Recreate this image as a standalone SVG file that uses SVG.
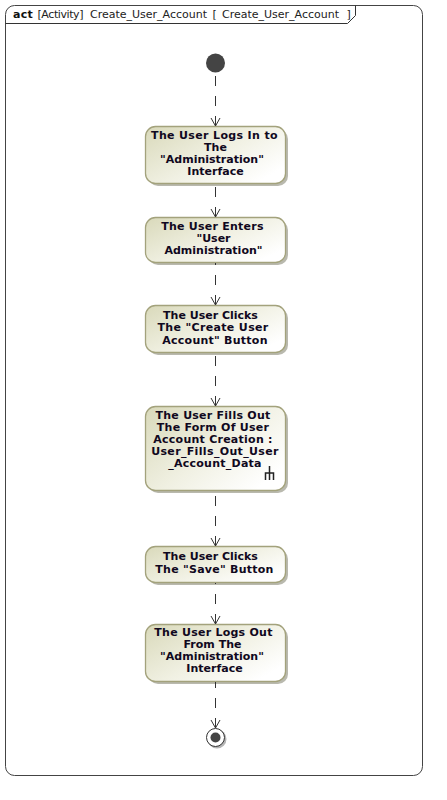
<svg xmlns="http://www.w3.org/2000/svg" width="447" height="800" viewBox="0 0 447 800">
<style>
.n{fill:url(#g);stroke:#a3a27c;stroke-width:1.3}
.s{fill:#a8a89a;opacity:.8}
.t{font:bold 11px "DejaVu Sans",sans-serif;fill:#100820;text-anchor:middle}
.a{letter-spacing:.25px}
.b{letter-spacing:.35px}
.c{fill:none;stroke:#333;stroke-width:1;stroke-dasharray:10 10}
.h{fill:none;stroke:#333;stroke-width:1}
.f{font:11px "DejaVu Sans",sans-serif;fill:#222}
</style>
<defs>
<linearGradient id="g" x1="0" y1="0" x2="1" y2=".7"><stop offset="0" stop-color="#d9d9ba"/><stop offset=".55" stop-color="#f0f0e2"/><stop offset="1" stop-color="#fff"/></linearGradient>
</defs>
<rect width="447" height="800" fill="#fff"/>
<g id="frame">
<rect x="5.5" y="5.500" width="417" height="770" rx="9" fill="#fff" stroke="#444" stroke-width="1"/>
<path class="h" d="M5.500 23.500H347.500L355.500 15.500V5.500" stroke="#444"/>
<text x="13" y="18" style="font:bold 11px 'DejaVu Sans',sans-serif;letter-spacing:.3px" fill="#111">act</text>
<text x="37.500" y="18" class="f" textLength="46">[Activity]</text>
<text y="18" class="f"><tspan x="90">Create_User_Account</tspan><tspan x="212.500">[</tspan><tspan x="222">Create_User_Account</tspan><tspan x="346.500">]</tspan></text>
</g>
<g id="start"><circle cx="215.500" cy="63" r="9.500" fill="#444"/></g>
<g id="n1"><rect class="s" x="148" y="129" width="140" height="57" rx="10"/><rect class="n" x="145.500" y="126.500" width="140" height="57" rx="10"/>
<text class="t b" x="214.500" y="139">The User Logs In to</text><text class="t" x="215.500" y="151">The</text><text class="t" x="212" y="163">"Administration"</text><text class="t" x="215.500" y="175">Interface</text></g>
<g id="n2"><rect class="s" x="148" y="220" width="140" height="45" rx="10"/><rect class="n" x="145.500" y="217.500" width="140" height="45" rx="10"/>
<text class="t a" x="212.500" y="230">The User Enters</text><text class="t" x="213.500" y="242">"User</text><text class="t" x="213.500" y="254">Administration"</text></g>
<g id="n3"><rect class="s" x="148" y="308" width="140" height="47" rx="10"/><rect class="n" x="145.500" y="305.500" width="140" height="47" rx="10"/>
<text class="t" x="210.500" y="319">The User Clicks</text><text class="t b" x="213" y="331">The "Create User</text><text class="t a" x="215" y="344">Account" Button</text></g>
<g id="n4"><rect class="s" x="148" y="409" width="140" height="84" rx="10"/><rect class="n" x="145.500" y="406.500" width="140" height="84" rx="10"/>
<text class="t a" x="213" y="419">The User Fills Out</text><text class="t a" x="213" y="431">The Form Of User</text><text class="t a" x="213" y="443">Account Creation :</text><text class="t b" x="215" y="455">User_Fills_Out_User</text><text class="t a" x="215" y="467">_Account_Data</text>
<path d="M269.500 466V480M265.500 480V473H273.500V480" fill="none" stroke="#222" stroke-width="1.500"/></g>
<g id="n5"><rect class="s" x="148" y="549" width="140" height="36" rx="10"/><rect class="n" x="145.500" y="546.500" width="140" height="36" rx="10"/>
<text class="t" x="210.500" y="560">The User Clicks</text><text class="t a" x="214.500" y="573">The "Save" Button</text></g>
<g id="n6"><rect class="s" x="148" y="627" width="140" height="57" rx="10"/><rect class="n" x="145.500" y="624.500" width="140" height="57" rx="10"/>
<text class="t a" x="213.500" y="636">The User Logs Out</text><text class="t" x="212.500" y="648">From The</text><text class="t" x="212" y="660">"Administration"</text><text class="t" x="214.500" y="672">Interface</text></g>
<g id="end"><circle cx="217" cy="739" r="9.500" fill="#b4b4b4"/><circle cx="215.500" cy="737.500" r="9" fill="#fff" stroke="#333"/><circle cx="215.500" cy="737.500" r="5" fill="#444"/></g>
<g id="connectors">
<path class="c" d="M215.500 126V76"/><path class="h" d="M211 118L215.500 126L220 118"/>
<path class="c" d="M215.500 217V187"/><path class="h" d="M211 209L215.500 217L220 209"/>
<path class="c" d="M215.500 305V263"/><path class="h" d="M211 297L215.500 305L220 297"/>
<path class="c" d="M215.500 406V356"/><path class="h" d="M211 398L215.500 406L220 398"/>
<path class="c" d="M215.500 546V496"/><path class="h" d="M211 538L215.500 546L220 538"/>
<path class="c" d="M215.500 624V583"/><path class="h" d="M211 616L215.500 624L220 616"/>
<path class="c" d="M215.500 728V682"/><path class="h" d="M211 720L215.500 728L220 720"/>
</g>
</svg>
